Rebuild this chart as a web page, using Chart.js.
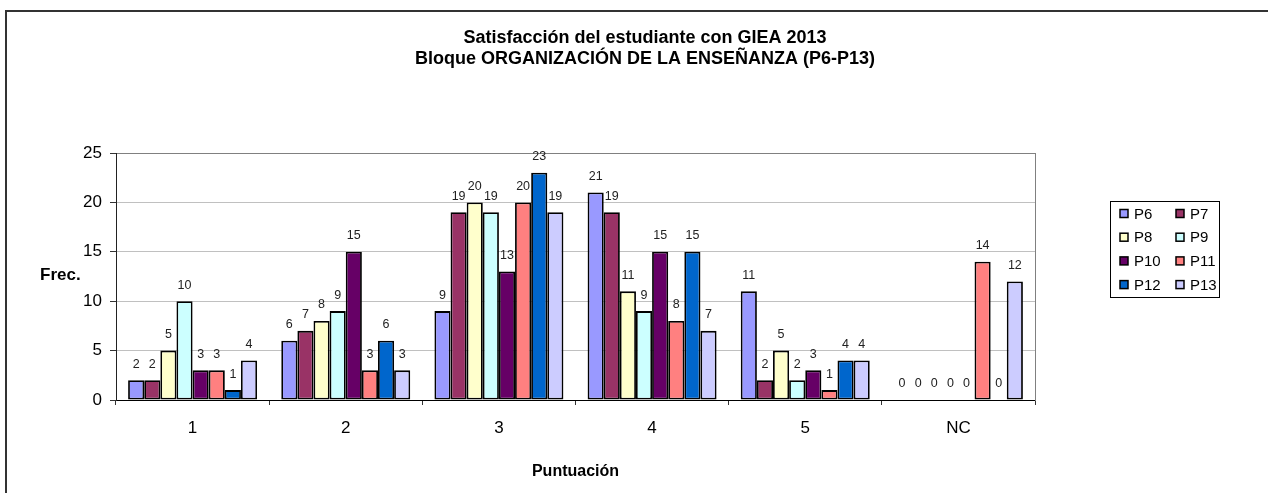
<!DOCTYPE html>
<html>
<head>
<meta charset="utf-8">
<title>Satisfacción GIEA 2013</title>
<script src="https://cdn.jsdelivr.net/npm/chart.js@4.4.1/dist/chart.umd.min.js"></script>
<style>
    html, body { margin: 0; padding: 0; background: #fff; }
    #wrap { position: relative; width: 1268px; height: 493px; }
</style>
</head>
<body>
<div id="wrap"><canvas id="chartBloque"></canvas></div>
<script>

// =========================
// DATOS
// =========================
const categorias = ["1", "2", "3", "4", "5", "NC"];

const p6  = [2, 6, 9, 21, 11, 0];
const p7  = [2, 7, 19, 19, 2, 0];
const p8  = [5, 8, 20, 11, 5, 0];
const p9  = [10, 9, 19, 9, 2, 0];
const p10 = [3, 15, 13, 15, 3, 0];
const p11 = [3, 3, 20, 8, 1, 14];
const p12 = [1, 6, 23, 15, 4, 0];
const p13 = [4, 3, 19, 7, 4, 12];

const series  = ["P6", "P7", "P8", "P9", "P10", "P11", "P12", "P13"];
const valores = [p6, p7, p8, p9, p10, p11, p12, p13];
const colores = ["#9999FF", "#993366", "#FFFFCC", "#CCFFFF", "#660066", "#FF8080", "#0066CC", "#CCCCFF"];

const ticksY = [0, 5, 10, 15, 20, 25];

const titulo = [
    "Satisfacción del estudiante con GIEA 2013",
    "Bloque ORGANIZACIÓN DE LA ENSEÑANZA (P6-P13)"
];

const ARIAL  = "'Liberation Sans', Arial, sans-serif";
const NARROW = "'Liberation Sans Narrow', 'Arial Narrow', 'Liberation Sans', sans-serif";

Chart.defaults.font.family = ARIAL;
Chart.defaults.color = "#000";


// =========================
// PLUGIN: marco, "Frec.", etiquetas y leyenda
// =========================
const extras = {
    id: "extras",

    beforeDraw(chart) {
        const ctx = chart.ctx;
        ctx.save();
        ctx.fillStyle = "#fff";
        ctx.fillRect(0, 0, chart.width, chart.height);
        // marco exterior (solo se ve arriba e izquierda)
        ctx.strokeStyle = "#333";
        ctx.lineWidth = 2;
        ctx.beginPath();
        ctx.moveTo(6, chart.height);
        ctx.lineTo(6, 11);
        ctx.lineTo(chart.width, 11);
        ctx.stroke();
        ctx.restore();
    },

    afterDatasetsDraw(chart) {
        const ctx = chart.ctx;
        ctx.save();
        ctx.font = "12.5px " + NARROW;
        ctx.fillStyle = "#222";
        ctx.textAlign = "center";
        ctx.textBaseline = "middle";
        chart.data.datasets.forEach((ds, i) => {
            chart.getDatasetMeta(i).data.forEach((bar, j) => {
                ctx.fillText(String(ds.data[j]), bar.x, bar.y - 16);
            });
        });
        ctx.restore();
    },

    afterDraw(chart) {
        const ctx = chart.ctx;
        ctx.save();

        // titulo eje Y, horizontal
        ctx.font = "bold 17px " + ARIAL;
        ctx.fillStyle = "#000";
        ctx.textAlign = "left";
        ctx.textBaseline = "middle";
        ctx.fillText("Frec.", 40, 275);

        // leyenda en dos columnas
        const x0 = 1110, y0 = 201, w = 109, h = 96;
        ctx.strokeStyle = "#000";
        ctx.lineWidth = 1;
        ctx.strokeRect(x0 + 0.5, y0 + 0.5, w, h);

        ctx.font = "15px " + NARROW;
        chart.data.datasets.forEach((ds, i) => {
            const col = i % 2;
            const row = Math.floor(i / 2);
            const sx = x0 + 10 + col * 56;
            const cy = y0 + 12.5 + row * 23.7;
            ctx.fillStyle = ds.backgroundColor;
            ctx.fillRect(sx, cy - 4, 8, 8);
            ctx.strokeStyle = "#000";
            ctx.lineWidth = 1.5;
            ctx.strokeRect(sx, cy - 4, 8, 8);
            ctx.fillStyle = "#000";
            ctx.fillText(ds.label, sx + 14, cy + 1);
        });

        ctx.restore();
    }
};


// =========================
// GRAFICO
// =========================
function createGroupedBar(id) {

    const ctx = document.getElementById(id);

    if (!ctx) return;

    new Chart(ctx, {

        type: "bar",

        data: {
            labels: categorias,
            datasets: series.map((nombre, i) => ({
                label: nombre,
                data: valores[i],
                backgroundColor: colores[i],
                borderColor: "#000",
                borderWidth: 1.8,
                borderSkipped: false
            }))
        },

        options: {
            responsive: true,
            maintainAspectRatio: false,
            animation: false,
            datasets: {
                bar: { categoryPercentage: 0.842, barPercentage: 1 }
            },
            layout: {
                padding: { left: 22, right: 0, top: 0, bottom: 0 }
            },
            plugins: {
                legend: { display: false },
                tooltip: { enabled: false },
                title: {
                    display: true,
                    text: titulo,
                    color: "#000",
                    font: { size: 18, weight: "bold", lineHeight: 1.167 },
                    padding: { top: 27.5, bottom: 83.5 }
                }
            },
            scales: {
                x: {
                    grid: {
                        offset: true,
                        drawOnChartArea: false,
                        drawTicks: true,
                        tickLength: 5,
                        color: "#333"
                    },
                    border: { color: "#000", width: 1 },
                    ticks: {
                        padding: 13,
                        font: { size: 17 },
                        color: "#000"
                    },
                    title: {
                        display: true,
                        text: "Puntuación",
                        color: "#000",
                        font: { size: 16, weight: "bold" },
                        padding: { top: 0, bottom: 12 }
                    },
                    afterFit(scale) { scale.height = 93; }
                },
                y: {
                    min: 0,
                    max: 25,
                    afterBuildTicks(scale) {
                        scale.ticks = ticksY.map(v => ({ value: v }));
                    },
                    grid: {
                        color: c => (c.tick && c.tick.value === 25) ? "#808080" : "#c0c0c0",
                        tickColor: "#333",
                        tickLength: 6,
                        lineWidth: 1
                    },
                    border: { color: "#222", width: 1 },
                    ticks: {
                        padding: 8,
                        font: { size: 17 },
                        color: "#000"
                    },
                    afterFit(scale) { scale.width = 94; }
                },
                margen: {
                    type: "linear",
                    position: "right",
                    display: true,
                    grid: { drawOnChartArea: false, drawTicks: false },
                    border: { color: "#808080", width: 1 },
                    ticks: { display: false },
                    afterFit(scale) { scale.width = 233; }
                }
            }
        },

        plugins: [extras]

    });

}

document.addEventListener("DOMContentLoaded", function () {
    createGroupedBar("chartBloque");
});

</script>
</body>
</html>
